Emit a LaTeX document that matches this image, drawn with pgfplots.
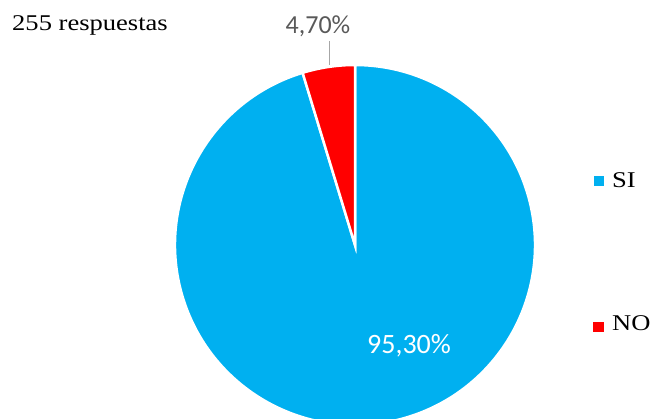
\documentclass[border=0pt]{standalone}
\usepackage{pgfplots}
\usepackage{pgfplotstable}
\pgfplotsset{compat=1.18}
\usepackage{fontspec}
\setmainfont{Liberation Serif}
\newfontfamily\labelfont{Carlito}
\newfontfamily\serifwide[FakeStretch=1.18]{Liberation Serif}

\definecolor{siblue}{HTML}{00B0F0}
\definecolor{nored}{HTML}{FF0000}
\definecolor{labelgray}{HTML}{595959}
\definecolor{linegray}{HTML}{A6A6A6}

% share of answers, in percent
\pgfplotstableread{
label pct
SI    95.30
NO    4.70
}\pietable

\begin{document}
\begin{tikzpicture}
  \pgfplotstablegetelem{0}{pct}\of\pietable \let\pctSI\pgfplotsretval
  \pgfplotstablegetelem{1}{pct}\of\pietable \let\pctNO\pgfplotsretval
  % NO starts at 12 o'clock and runs counter-clockwise, SI takes the rest
  \pgfmathsetmacro\angNO{90+3.6*\pctNO}
  \begin{axis}[
      width=654pt, height=419pt,
      scale only axis,
      hide axis,
      xmin=0, xmax=654,
      ymin=0, ymax=419,
      clip=true,
    ]
    \path (axis cs:0,0) rectangle (axis cs:654,419);
    % slices
    \filldraw[fill=siblue, draw=white, line width=2.5pt]
      (axis cs:355,174) -- ++(\angNO:180pt)
      arc[start angle=\angNO, end angle=450, radius=180pt] -- cycle;
    \filldraw[fill=nored, draw=white, line width=2.5pt]
      (axis cs:355,174) -- ++(90:180pt)
      arc[start angle=90, end angle=\angNO, radius=180pt] -- cycle;
    % data labels
    \draw[linegray, line width=1pt] (axis cs:329,378) -- (axis cs:329,354);
    \node[anchor=base, text=labelgray, font=\labelfont\fontsize{26}{30}\selectfont]
      at (axis cs:318,385) {4,70\%};
    \node[anchor=base, text=white, font=\labelfont\fontsize{28}{32}\selectfont]
      at (axis cs:409,65) {95,30\%};
    % title
    \node[anchor=base west, inner sep=0pt, font=\serifwide\fontsize{22.5}{26}\selectfont]
      at (axis cs:12,388) {255 respuestas};
    % legend
    \fill[siblue] (axis cs:594,233) rectangle (axis cs:604,243);
    \node[anchor=base west, inner sep=0pt, font=\serifwide\fontsize{22.5}{26}\selectfont]
      at (axis cs:612,231) {SI};
    \fill[nored] (axis cs:593,87) rectangle (axis cs:604,97);
    \node[anchor=base west, inner sep=0pt, font=\serifwide\fontsize{22.5}{26}\selectfont]
      at (axis cs:612,88) {NO};
  \end{axis}
\end{tikzpicture}
\end{document}
